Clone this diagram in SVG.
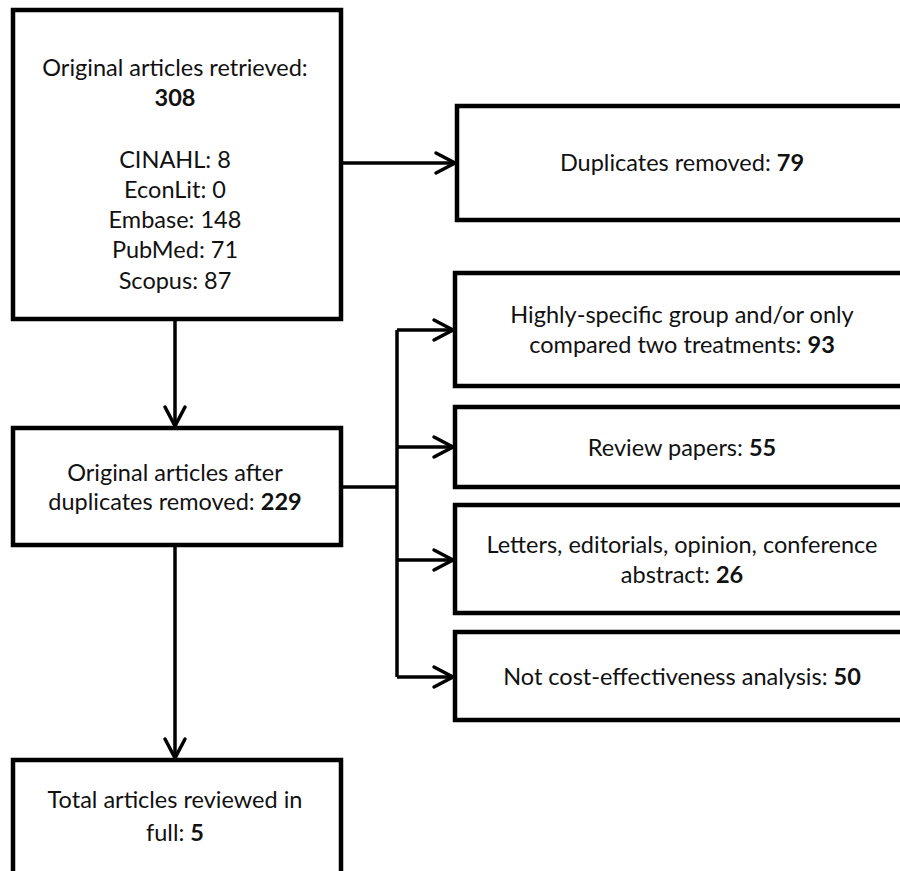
<svg xmlns="http://www.w3.org/2000/svg" width="900" height="871" viewBox="0 0 900 871">
<style>
.box{fill:#fff;stroke:#000;stroke-width:4.5}
.t{font-family:Lato,"Liberation Sans",sans-serif;font-size:23.5px;fill:#111;text-anchor:middle}
.b{font-weight:bold}
.c{fill:none;stroke:#000;stroke-width:3.5}
</style>
<defs>
<marker id="ah" markerUnits="userSpaceOnUse" markerWidth="30" markerHeight="30" viewBox="-25 -15 30 30" refX="0" refY="0" orient="auto">
<path d="M-19,-10 L0,0 L-19,10" fill="none" stroke="#000" stroke-width="3.5" stroke-linecap="round" stroke-linejoin="miter"/>
</marker>
</defs>
<rect width="900" height="871" fill="#fff"/>
<g id="connectors">
<path class="c" d="M341,163 H455" marker-end="url(#ah)"/>
<path class="c" d="M175,319 V426" marker-end="url(#ah)"/>
<path class="c" d="M175,545 V758" marker-end="url(#ah)"/>
<path class="c" d="M341,487 H397"/>
<path class="c" d="M397,330 V677"/>
<path class="c" d="M397,330 H453" marker-end="url(#ah)"/>
<path class="c" d="M397,447 H453" marker-end="url(#ah)"/>
<path class="c" d="M397,560 H453" marker-end="url(#ah)"/>
<path class="c" d="M397,677 H453" marker-end="url(#ah)"/>
</g>
<g id="n1">
<rect class="box" x="13" y="10" width="328" height="309"/>
<text class="t" x="175" y="76">Original articles retrieved:</text>
<text class="t b" x="175" y="106">308</text>
<text class="t" x="175" y="168">CINAHL: 8</text>
<text class="t" x="175" y="198">EconLit: 0</text>
<text class="t" x="175" y="228">Embase: 148</text>
<text class="t" x="175" y="258">PubMed: 71</text>
<text class="t" x="175" y="289">Scopus: 87</text>
</g>
<g id="n2">
<rect class="box" x="457" y="106" width="450" height="114"/>
<text class="t" x="682" y="171">Duplicates removed: <tspan class="b">79</tspan></text>
</g>
<g id="n3">
<rect class="box" x="13" y="428" width="328" height="117"/>
<text class="t" x="175" y="481">Original articles after</text>
<text class="t" x="175" y="510">duplicates removed: <tspan class="b">229</tspan></text>
</g>
<g id="n4">
<rect class="box" x="455" y="273" width="452" height="113"/>
<text class="t" x="682" y="323">Highly-specific group and/or only</text>
<text class="t" x="682" y="353">compared two treatments: <tspan class="b">93</tspan></text>
</g>
<g id="n5">
<rect class="box" x="455" y="407" width="452" height="80"/>
<text class="t" x="682" y="456">Review papers: <tspan class="b">55</tspan></text>
</g>
<g id="n6">
<rect class="box" x="455" y="505" width="452" height="108"/>
<text class="t" x="682" y="553">Letters, editorials, opinion, conference</text>
<text class="t" x="682" y="583">abstract: <tspan class="b">26</tspan></text>
</g>
<g id="n7">
<rect class="box" x="455" y="632" width="452" height="88"/>
<text class="t" x="682" y="685">Not cost-effectiveness analysis: <tspan class="b">50</tspan></text>
</g>
<g id="n8">
<rect class="box" x="13" y="760" width="328" height="130"/>
<text class="t" x="175" y="808">Total articles reviewed in</text>
<text class="t" x="175" y="841">full: <tspan class="b">5</tspan></text>
</g>
</svg>
